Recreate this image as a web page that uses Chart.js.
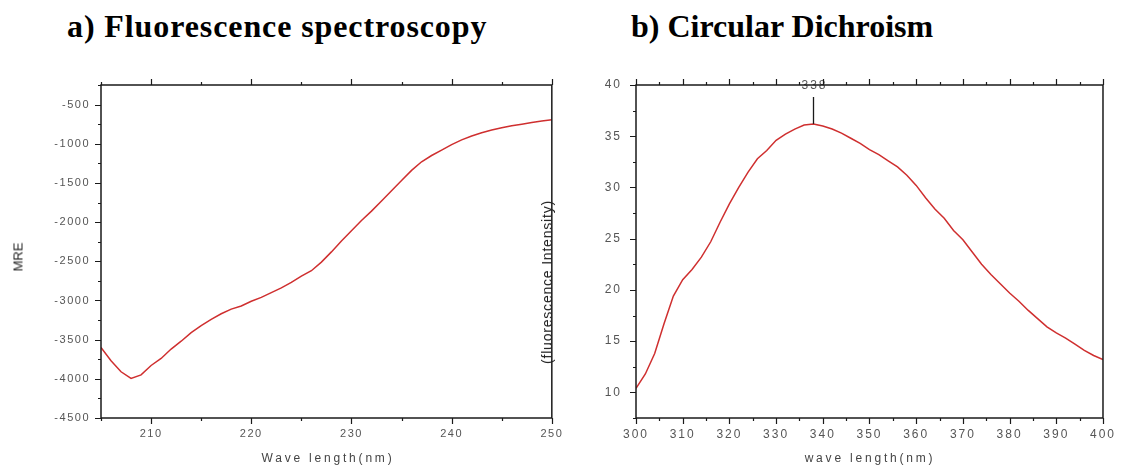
<!DOCTYPE html>
<html>
<head>
<meta charset="utf-8">
<script src="https://cdn.jsdelivr.net/npm/chart.js@4.4.1/dist/chart.umd.min.js"></script>
<style>
  body { margin: 0; background: #fff; }
  #page { position: relative; width: 1122px; height: 466px; overflow: hidden; background: #fff; }
  .box { position: absolute; top: 0; height: 466px; }
  .title { position: absolute; top: 6px; font-family: "Liberation Serif", "Times New Roman", serif; font-weight: bold; font-size: 32px; line-height: 40px; color: #000; white-space: nowrap; }
  .axt { position: absolute; font-family: "Liberation Sans", Arial, sans-serif; color: #444; white-space: nowrap; transform: translate(-50%, -50%); }
  .rot { transform: translate(-50%, -50%) rotate(-90deg); }
</style>
</head>
<body>
<div id="page">
  <div class="title" style="left:67px; letter-spacing:0.9px">a) Fluorescence spectroscopy</div>
  <div class="title" style="left:631px">b) Circular Dichroism</div>

  <div class="box" style="left:0; width:570px"><canvas id="mreChart"></canvas></div>
  <div class="box" style="left:570px; width:552px"><canvas id="fluoChart"></canvas></div>

  <div class="axt rot" style="left:18px; top:257px; font-size:13px; color:#222">MRE</div>
  <div class="axt" style="left:328px; top:458px; font-size:12px; letter-spacing:2.8px">Wave length(nm)</div>
  <div class="axt rot" style="left:547px; top:282px; font-size:14px; letter-spacing:0.8px; color:#222">(fluorescence Intensity)</div>
  <div class="axt" style="left:870px; top:458px; font-size:12px; letter-spacing:2.8px">wave length(nm)</div>
</div>

<script>
// panel a: wavelength (nm) vs MRE
const mreWavelength = [205, 206, 207, 208, 209, 210, 211, 212, 213, 214, 215, 216, 217, 218, 219, 220,
  221, 222, 223, 224, 225, 226, 227, 228, 229, 230, 231, 232, 233, 234, 235, 236, 237, 238, 239, 240,
  241, 242, 243, 244, 245, 246, 247, 248, 249, 250];
const mreValues = [-3600, -3770, -3910, -3995, -3950, -3830, -3740, -3620, -3520, -3410, -3320, -3240,
  -3170, -3110, -3070, -3010, -2960, -2900, -2840, -2770, -2690, -2620, -2510, -2380, -2240, -2110,
  -1980, -1860, -1730, -1600, -1470, -1340, -1230, -1150, -1080, -1010, -950, -900, -860, -825, -795,
  -770, -750, -730, -710, -695];
const mreXTicks = [210, 220, 230, 240, 250];
const mreYTicks = [-4500, -4000, -3500, -3000, -2500, -2000, -1500, -1000, -500];

// panel b: wavelength (nm) vs fluorescence intensity
const fluoWavelength = [300, 302, 304, 306, 308, 310, 312, 314, 316, 318, 320, 322, 324, 326, 328, 330,
  332, 334, 336, 338, 340, 342, 344, 346, 348, 350, 352, 354, 356, 358, 360, 362, 364, 366, 368, 370,
  372, 374, 376, 378, 380, 382, 384, 386, 388, 390, 392, 394, 396, 398, 400];
const fluoValues = [10.4, 11.8, 13.8, 16.7, 19.4, 21.0, 22.0, 23.2, 24.7, 26.6, 28.4, 30.0, 31.5, 32.8,
  33.6, 34.6, 35.2, 35.7, 36.1, 36.2, 36.0, 35.7, 35.3, 34.8, 34.3, 33.7, 33.2, 32.6, 32.0, 31.2, 30.2,
  29.0, 27.9, 27.0, 25.8, 24.9, 23.7, 22.5, 21.5, 20.6, 19.7, 18.9, 18.0, 17.2, 16.4, 15.8, 15.3, 14.7,
  14.1, 13.6, 13.2];
const fluoXTicks = [300, 310, 320, 330, 340, 350, 360, 370, 380, 390, 400];
const fluoYTicks = [10, 15, 20, 25, 30, 35, 40];

const peakWavelength = 338;

const lineColor = '#cf2f2f';
const axisColor = '#1a1a1a';

// box frame + outward major/minor tick marks (bottom, top, left)
const axesFrame = {
  id: 'axesFrame',
  beforeDraw(chart, args, opts) {
    chart.ctx.letterSpacing = opts.letterSpacing || '0px';
  },
  afterDraw(chart, args, opts) {
    const { ctx, chartArea: a, scales: { x, y } } = chart;
    ctx.save();
    ctx.strokeStyle = axisColor;
    ctx.lineWidth = 1.5;
    ctx.strokeRect(a.left, a.top, a.right - a.left, a.bottom - a.top);
    ctx.lineWidth = 1.2;
    ctx.beginPath();
    for (let v = x.min; v <= x.max + 1e-9; v += opts.xMinor) {
      const major = Math.abs(v / opts.xMajor - Math.round(v / opts.xMajor)) < 1e-6;
      const len = major ? 6 : 3;
      const px = Math.round(x.getPixelForValue(v)) + 0.5;
      ctx.moveTo(px, a.bottom); ctx.lineTo(px, a.bottom + len);
      ctx.moveTo(px, a.top); ctx.lineTo(px, a.top - len);
    }
    const start = Math.ceil(y.min / opts.yMinor) * opts.yMinor;
    for (let v = start; v <= y.max + 1e-9; v += opts.yMinor) {
      const major = Math.abs(v / opts.yMajor - Math.round(v / opts.yMajor)) < 1e-6;
      const len = major ? 6 : 3;
      const py = Math.round(y.getPixelForValue(v)) + 0.5;
      ctx.moveTo(a.left, py); ctx.lineTo(a.left - len, py);
    }
    ctx.stroke();
    ctx.restore();
  }
};

// vertical marker and label over the emission maximum
const peakMarker = {
  id: 'peakMarker',
  afterDatasetsDraw(chart, args, opts) {
    if (!opts.wavelength) return;
    const { ctx, chartArea: a, scales: { x, y } } = chart;
    const i = fluoWavelength.indexOf(opts.wavelength);
    const px = Math.round(x.getPixelForValue(opts.wavelength)) + 0.5;
    const py = y.getPixelForValue(fluoValues[i]);
    ctx.save();
    ctx.strokeStyle = axisColor;
    ctx.lineWidth = 1.3;
    ctx.beginPath();
    ctx.moveTo(px, py);
    ctx.lineTo(px, a.top + 12);
    ctx.stroke();
    ctx.letterSpacing = '2px';
    ctx.fillStyle = '#555';
    ctx.font = '12px "Liberation Sans", Arial, sans-serif';
    ctx.textAlign = 'center';
    ctx.textBaseline = 'middle';
    ctx.fillText(String(opts.wavelength), px + 1, a.top + 1);
    ctx.restore();
  }
};

const tickFont = (size) => ({ family: '"Liberation Sans", Arial, sans-serif', size: size });

function makeChart(id, xs, ys, cfg) {
  const ctx = document.getElementById(id).getContext('2d');
  return new Chart(ctx, {
    type: 'line',
    data: {
      datasets: [{
        data: xs.map((w, i) => ({ x: w, y: ys[i] })),
        borderColor: lineColor,
        borderWidth: 1.5,
        pointRadius: 0,
        tension: 0,
        fill: false
      }]
    },
    options: {
      responsive: true,
      maintainAspectRatio: false,
      animation: false,
      events: [],
      layout: { padding: { top: 85, right: cfg.rightPad, left: 0, bottom: 0 } },
      scales: {
        x: {
          type: 'linear',
          min: cfg.xMin,
          max: cfg.xMax,
          afterFit: (scale) => { scale.height = 48; },
          afterBuildTicks: (scale) => { scale.ticks = cfg.xTicks.map(v => ({ value: v })); },
          grid: { display: false, drawTicks: false },
          border: { display: false },
          ticks: {
            maxRotation: 0,
            autoSkip: false,
            padding: 9,
            color: '#555',
            font: tickFont(cfg.fontSize),
            callback: (v) => String(v)
          }
        },
        y: {
          min: cfg.yMin,
          max: cfg.yMax,
          afterFit: (scale) => { scale.width = cfg.yWidth; },
          afterBuildTicks: (scale) => { scale.ticks = cfg.yTicks.map(v => ({ value: v })); },
          grid: { display: false, drawTicks: false },
          border: { display: false },
          ticks: {
            autoSkip: false,
            padding: cfg.yPad,
            color: '#555',
            font: tickFont(cfg.fontSize),
            callback: (v) => String(v)
          }
        }
      },
      plugins: {
        legend: { display: false },
        tooltip: { enabled: false },
        axesFrame: {
          xMajor: cfg.xMajor, xMinor: cfg.xMajor / 2,
          yMajor: cfg.yMajor, yMinor: cfg.yMajor / 2,
          letterSpacing: cfg.letterSpacing
        },
        peakMarker: { wavelength: cfg.peak }
      }
    },
    plugins: [axesFrame, peakMarker]
  });
}

makeChart('mreChart', mreWavelength, mreValues, {
  xMin: 205, xMax: 250, xMajor: 10, xTicks: mreXTicks,
  yMin: -4500, yMax: -250, yMajor: 500, yTicks: mreYTicks,
  yWidth: 101, yPad: 11, rightPad: 16,
  fontSize: 11, letterSpacing: '1.5px', peak: null
});

makeChart('fluoChart', fluoWavelength, fluoValues, {
  xMin: 300, xMax: 400, xMajor: 10, xTicks: fluoXTicks,
  yMin: 7.5, yMax: 40, yMajor: 5, yTicks: fluoYTicks,
  yWidth: 66, yPad: 14, rightPad: 12,
  fontSize: 12, letterSpacing: '2px', peak: peakWavelength
});
</script>
</body>
</html>
